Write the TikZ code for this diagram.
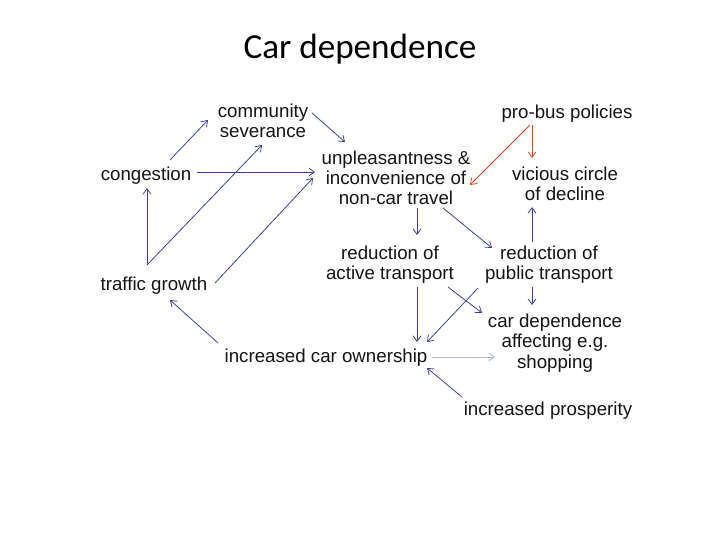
\documentclass[tikz,border=0pt]{standalone}
\usepackage{fontspec}
\setmainfont{Liberation Sans}
\newfontfamily\titlefont{Carlito}
\usetikzlibrary{arrows.meta,calc}
\definecolor{indigo}{RGB}{62,60,150}
\definecolor{rust}{RGB}{222,72,32}
\definecolor{haze}{RGB}{175,180,215}
\definecolor{ink}{RGB}{20,20,20}
\tikzset{
  >={Straight Barb[length=1.4mm,width=2mm]},
  tag/.style={align=center,inner sep=0pt,text=ink,font=\fontsize{13.3}{14.4}\selectfont},
  flow/.style={->,line width=0.55pt,draw=#1},
  flow/.default=indigo,
}

\begin{document}
\begin{tikzpicture}[x=0.025cm,y=-0.025cm]
        \useasboundingbox[fill=white] (0,0) rectangle (720,540);
        \node[font=\titlefont\fontsize{25}{30}\selectfont,text=black] (title) at (360,49) {Car dependence};
        % nodes
        \node[tag] (sev) at (263,121) {community\\severance};
        \node[tag] (cong) at (146,176) {congestion};
        \node[tag] (tg) at (154,286) {traffic growth};
        \node[tag] (unp) at (396,178) {unpleasantness \&\\inconvenience of\\non-car travel};
        \node[tag] (pb) at (567,114) {pro-bus policies};
        \node[tag] (vc) at (565,184) {vicious circle\\of decline};
        \node[tag] (ra) at (390,265) {reduction of\\active transport};
        \node[tag] (rp) at (549,265) {reduction of\\public transport};
        \node[tag] (cd) at (555,343) {car dependence\\affecting e.g.\\shopping};
        \node[tag] (co) at (326,358) {increased car ownership};
        \node[tag] (ip) at (548,411) {increased prosperity};
        % links
        \draw[flow] ($(cong)+(24,-16)$) -- ($(sev)+(-55,-1)$);
        \draw[flow] ($(sev)+(49,-8)$) -- ($(unp)+(-51,-36)$);
        \draw[flow] ($(cong)+(51,-4)$) -- ($(unp)+(-81,-6)$);
        \draw[flow] ($(tg)+(-7,-21)$) -- ($(cong)+(1,12)$);
        \draw[flow] ($(tg)+(-7,-21)$) -- ($(sev)+(-1,24)$);
        \draw[flow] ($(tg)+(61,-3)$) -- ($(unp)+(-83,0)$);
        \draw[flow=rust] ($(pb)+(-37,11)$) -- ($(unp)+(74,7)$);
        \draw[flow=rust] ($(pb)+(-35,11)$) -- ($(vc)+(-33,-26)$);
        \draw[flow] ($(rp)+(-17,-23)$) -- ($(vc)+(-33,23)$);
        \draw[flow] ($(unp)+(21,30)$) -- ($(ra)+(27,-30)$);
        \draw[flow] ($(unp)+(47,30)$) -- ($(rp)+(-57,-17)$);
        \draw[flow] ($(ra)+(27,22)$) -- ($(co)+(91,-16)$);
        \draw[flow] ($(ra)+(58,22)$) -- ($(cd)+(-73,-30)$);
        \draw[flow] ($(rp)+(-71,23)$) -- ($(co)+(101,-16)$);
        \draw[flow] ($(rp)+(-17,22)$) -- ($(cd)+(-23,-38)$);
        \draw[flow] ($(co)+(-108,-15)$) -- ($(tg)+(16,14)$);
        \draw[flow=haze] ($(co)+(106,-1)$) -- ($(cd)+(-60,14)$);
        \draw[flow] ($(ip)+(-86,-14)$) -- ($(co)+(101,10)$);
      \end{tikzpicture}
\end{document}
